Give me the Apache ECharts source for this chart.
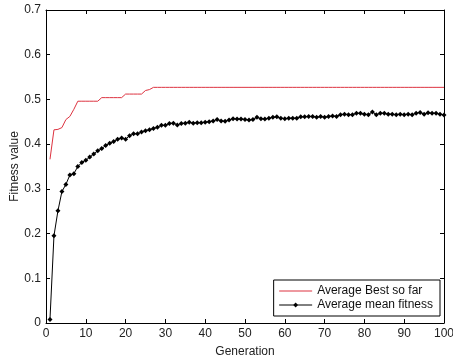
<!DOCTYPE html>
<html>
<head>
<meta charset="utf-8">
<script src="https://cdn.jsdelivr.net/npm/echarts@6/dist/echarts.min.js"></script>
<style>html,body{margin:0;padding:0;background:#fff}#c{width:453px;height:359px}</style>
</head>
<body>
<div id="c"></div>
<script>
var generations = [];
for (var g = 1; g <= 100; g++) generations.push(g);

var bestSoFar = [
0.366,0.432,0.433,0.437,0.455,0.462,0.478,0.496,0.496,0.496,
0.496,0.496,0.496,0.504,0.504,0.504,0.504,0.504,0.504,0.512,
0.512,0.512,0.512,0.512,0.520,0.522,0.527,0.527,0.527,0.527,
0.527,0.527,0.527,0.527,0.527,0.527,0.527,0.527,0.527,0.527,
0.527,0.527,0.527,0.527,0.527,0.527,0.527,0.527,0.527,0.527,
0.527,0.527,0.527,0.527,0.527,0.527,0.527,0.527,0.527,0.527,
0.527,0.527,0.527,0.527,0.527,0.527,0.527,0.527,0.527,0.527,
0.527,0.527,0.527,0.527,0.527,0.527,0.527,0.527,0.527,0.527,
0.527,0.527,0.527,0.527,0.527,0.527,0.527,0.527,0.527,0.527,
0.527,0.527,0.527,0.527,0.527,0.527,0.527,0.527,0.527,0.527
];

var meanFitness = [
0.008,0.195,0.251,0.294,0.310,0.331,0.334,0.350,0.359,0.364,
0.371,0.378,0.385,0.390,0.397,0.402,0.406,0.411,0.414,0.411,
0.419,0.423,0.423,0.427,0.430,0.432,0.435,0.438,0.442,0.442,
0.446,0.447,0.443,0.446,0.447,0.449,0.447,0.448,0.448,0.449,
0.450,0.452,0.455,0.452,0.451,0.454,0.457,0.456,0.456,0.455,
0.454,0.455,0.460,0.457,0.456,0.458,0.460,0.461,0.458,0.457,
0.458,0.458,0.458,0.461,0.461,0.462,0.462,0.460,0.462,0.460,
0.462,0.463,0.462,0.466,0.467,0.466,0.466,0.469,0.469,0.467,
0.466,0.472,0.466,0.469,0.469,0.467,0.467,0.466,0.467,0.466,
0.467,0.466,0.469,0.471,0.467,0.470,0.469,0.469,0.467,0.465
];

var seriesNames = ['Average Best so far', 'Average mean fitness'];

function pairs(vals) {
  return generations.map(function (g, i) { return [g, vals[i]]; });
}

var font = 'Liberation Sans, Arial, sans-serif';
var axisCommon = {
  axisLine: { show: true, onZero: false, lineStyle: { color: '#000', width: 1 } },
  axisTick: { show: true, inside: true, length: 4, lineStyle: { color: '#000' } },
  splitLine: { show: false }
};

var chart = echarts.init(document.getElementById('c'), null, { renderer: 'canvas' });
chart.setOption({
  animation: false,
  backgroundColor: '#fff',
  grid: { left: 46, right: 9, top: 10, bottom: 36, containLabel: false, outerBoundsMode: 'none' },
  xAxis: [
    Object.assign({
      type: 'value', min: 0, max: 100, interval: 10, position: 'bottom',
      name: 'Generation', nameLocation: 'middle', nameGap: 23, nameMoveOverlap: false,
      nameTextStyle: { fontFamily: font, fontSize: 12, color: '#222' },
      axisLabel: { fontFamily: font, fontSize: 12, color: '#222', margin: 5 }
    }, axisCommon),
    Object.assign({
      type: 'value', min: 0, max: 100, interval: 10, position: 'top',
      axisLabel: { show: false }
    }, axisCommon)
  ],
  yAxis: [
    Object.assign({
      type: 'value', min: 0, max: 0.7, interval: 0.1, position: 'left',
      name: 'Fitness value', nameLocation: 'middle', nameGap: 25, nameMoveOverlap: false,
      nameTextStyle: { fontFamily: font, fontSize: 12, color: '#222' },
      axisLabel: { fontFamily: font, fontSize: 12, color: '#222', margin: 5,
        formatter: function (v) { return v === 0 ? '0' : v.toFixed(1); } }
    }, axisCommon),
    Object.assign({
      type: 'value', min: 0, max: 0.7, interval: 0.1, position: 'right',
      axisLabel: { show: false }
    }, axisCommon)
  ],
  legend: {
    data: [
      { name: seriesNames[0], itemStyle: { opacity: 0 }, lineStyle: { width: 1 } },
      { name: seriesNames[1], lineStyle: { width: 1 } }
    ],
    orient: 'vertical',
    right: 13, bottom: 43,
    backgroundColor: '#fff',
    borderColor: '#000', borderWidth: 1, borderRadius: 0,
    padding: [5, 7, 5, 5],
    itemWidth: 33, itemHeight: 6, itemGap: 2,
    textStyle: { fontFamily: font, fontSize: 12, color: '#111' }
  },
  series: [
    {
      name: seriesNames[0], type: 'line', data: pairs(bestSoFar),
      symbol: 'none', lineStyle: { color: '#dd3340', width: 1 },
      itemStyle: { color: '#dd3340' }, z: 3
    },
    {
      name: seriesNames[1], type: 'line', data: pairs(meanFitness),
      symbol: 'diamond', symbolSize: 5, showAllSymbol: true,
      lineStyle: { color: '#000', width: 1 },
      itemStyle: { color: '#000' }, z: 2
    }
  ]
});
</script>
</body>
</html>
